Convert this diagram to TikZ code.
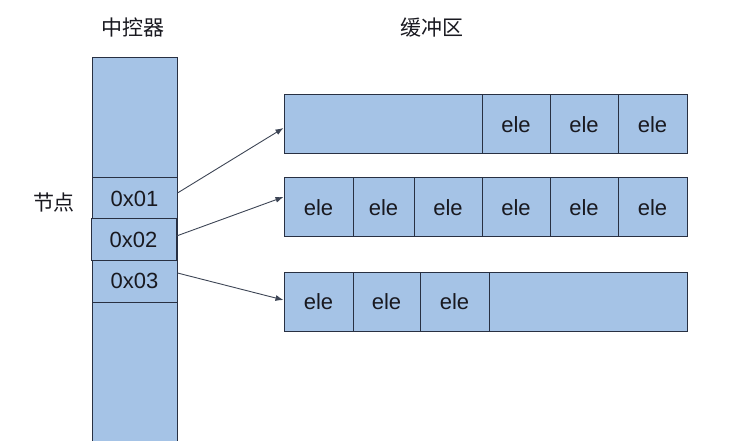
\documentclass[tikz,border=0pt]{standalone}
\usepackage{fontspec}
\setmainfont{Liberation Sans}
\newfontfamily\cjk{Noto Sans CJK SC}
\usetikzlibrary{arrows.meta}

\definecolor{cellblue}{RGB}{165,195,230}
\definecolor{cellline}{RGB}{40,48,66}
\definecolor{txt}{RGB}{25,25,32}

\tikzset{
  box/.style={draw=cellline, fill=cellblue, line width=1pt, inner sep=0pt,
    text=txt, font=\fontsize{22}{22}\selectfont},
  title/.style={text=txt, font=\cjk\fontsize{21}{21}\selectfont},
  ptr/.style={draw=cellline!90, line width=0.9pt, -{Latex[length=8pt,width=6pt]}}
}

\begin{document}
\begin{tikzpicture}[x=1pt,y=-1pt]
\useasboundingbox (0,0) rectangle (729,441);

\node[title] (ttl1) at (133,28) {中控器};
\node[title] (ttl2) at (432,28) {缓冲区};
\node[title] (lbl) at (54,203) {节点};

% controller column
\node[box, minimum width=85pt, minimum height=384pt] (ctrl) at (134.5,250) {};
\node[box, minimum width=85pt, minimum height=41pt] (n1) at (134.5,198.5) {0x01};
\node[box, minimum width=85pt, minimum height=42pt] (n3) at (134.5,281) {0x03};
\node[box, minimum width=85pt, minimum height=41pt] (n2) at (133.5,239.5) {0x02};

% buffers
\node[box, minimum width=403pt, minimum height=59pt] (b1) at (485.5,124.5) {};
\node[box, minimum width=68pt, minimum height=59pt] (e11) at (516,124.5) {ele};
\node[box, minimum width=68pt, minimum height=59pt] (e12) at (584,124.5) {ele};
\node[box, minimum width=69pt, minimum height=59pt] (e13) at (652.5,124.5) {ele};

\node[box, minimum width=403pt, minimum height=59pt] (b2) at (485.5,207.5) {};
\node[box, minimum width=69pt, minimum height=59pt] (e21) at (318.5,207.5) {ele};
\node[box, minimum width=61pt, minimum height=59pt] (e22) at (383.5,207.5) {ele};
\node[box, minimum width=68pt, minimum height=59pt] (e23) at (448,207.5) {ele};
\node[box, minimum width=68pt, minimum height=59pt] (e24) at (516,207.5) {ele};
\node[box, minimum width=68pt, minimum height=59pt] (e25) at (584,207.5) {ele};
\node[box, minimum width=69pt, minimum height=59pt] (e26) at (652.5,207.5) {ele};

\node[box, minimum width=403pt, minimum height=59pt] (b3) at (485.5,301.5) {};
\node[box, minimum width=69pt, minimum height=59pt] (e31) at (318.5,301.5) {ele};
\node[box, minimum width=67pt, minimum height=59pt] (e32) at (386.5,301.5) {ele};
\node[box, minimum width=69pt, minimum height=59pt] (e33) at (454.5,301.5) {ele};

% pointers
\draw[ptr] ([yshift=5.5pt]n1.east) -- ([yshift=-3.5pt]b1.west);
\draw[ptr] ([yshift=3.5pt]n2.east) -- ([yshift=10.5pt]b2.west);
\draw[ptr] ([yshift=8pt]n3.east) -- ([yshift=1.5pt]b3.west);
\end{tikzpicture}
\end{document}
